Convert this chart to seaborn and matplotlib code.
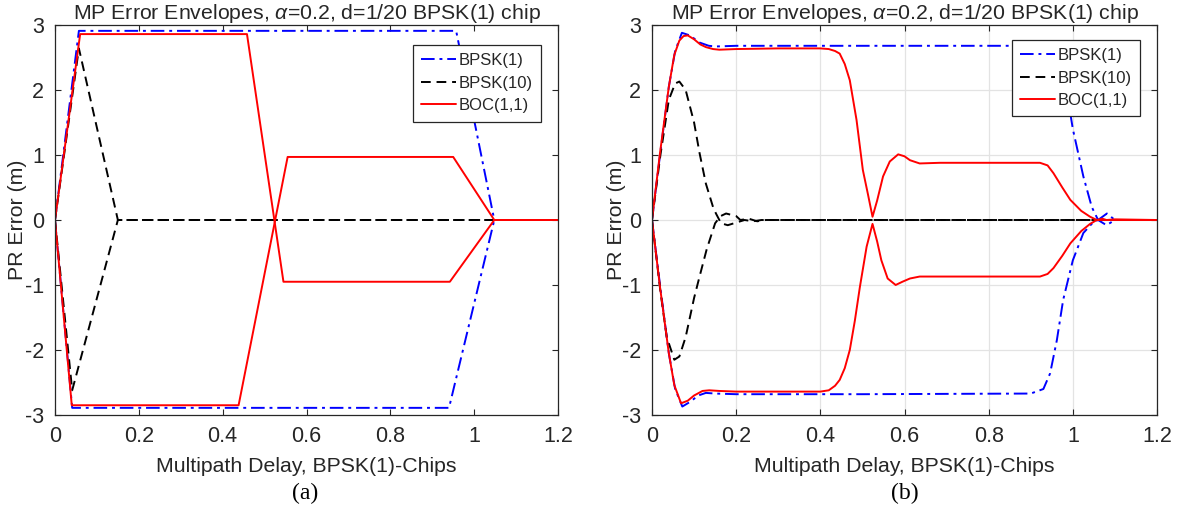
import numpy as np
import pandas as pd
import matplotlib
matplotlib.use("Agg")
import matplotlib.pyplot as plt
import seaborn as sns

# ---------------- data ----------------
labels = ["BPSK(1)", "BPSK(10)", "BOC(1,1)"]
title = r"MP Error Envelopes, $\alpha$=0.2, d=1/20 BPSK(1) chip"

# (a) ideal envelopes
a_bpsk1_up_x = [0, 0.057, 0.957, 1.048, 1.2]
a_bpsk1_up_y = [0, 2.91, 2.91, 0, 0]
a_bpsk1_lo_x = [0, 0.041, 0.94, 1.048, 1.2]
a_bpsk1_lo_y = [0, -2.89, -2.89, 0, 0]
a_bpsk10_up_x = [0, 0.057, 0.15, 1.2]
a_bpsk10_up_y = [0, 2.64, 0, 0]
a_bpsk10_lo_x = [0, 0.041, 0.15, 1.2]
a_bpsk10_lo_y = [0, -2.62, 0, 0]
a_boc_up_x = [0, 0.06, 0.458, 0.545, 0.942, 1.048, 1.2]
a_boc_up_y = [0, 2.86, 2.86, -0.95, -0.95, 0, 0]
a_boc_lo_x = [0, 0.04, 0.438, 0.555, 0.95, 1.048, 1.2]
a_boc_lo_y = [0, -2.85, -2.85, 0.97, 0.97, 0, 0]

# (b) band-limited envelopes
b_bpsk1_up_x = [0, 0.02, 0.04, 0.055, 0.071, 0.09, 0.113, 0.135, 0.152, 0.2, 0.5, 0.92,
                0.945, 0.965, 0.98, 0.99, 1.0, 1.025, 1.045, 1.06, 1.08, 1.1, 1.2]
b_bpsk1_up_y = [0, 1.05, 2.05, 2.6, 2.88, 2.84, 2.73, 2.68, 2.67, 2.68, 2.68, 2.68,
                2.62, 2.45, 2.1, 1.8, 1.4, 0.67, 0.2, 0.0, -0.08, 0, 0]
b_bpsk1_lo_x = [0, 0.02, 0.04, 0.055, 0.072, 0.09, 0.11, 0.128, 0.15, 0.2, 0.5, 0.9,
                0.93, 0.946, 0.962, 0.977, 1.0, 1.025, 1.049, 1.06, 1.081, 1.1, 1.2]
b_bpsk1_lo_y = [0, -1.05, -2.05, -2.6, -2.87, -2.8, -2.7, -2.66, -2.67, -2.68, -2.68, -2.67,
                -2.6, -2.36, -1.85, -1.23, -0.62, -0.2, -0.03, 0, 0.1, 0, 0]
b_bpsk10_up_x = [0, 0.02, 0.04, 0.055, 0.065, 0.08, 0.1, 0.113, 0.128, 0.145, 0.152,
                 0.164, 0.18, 0.2, 0.22, 0.24, 0.26, 1.2]
b_bpsk10_up_y = [0, 1.0, 1.85, 2.1, 2.13, 2.0, 1.5, 1.03, 0.56, 0.2, 0.1,
                 -0.05, -0.08, -0.04, 0.0, -0.02, 0, 0]
b_bpsk10_lo_x = [0, 0.02, 0.035, 0.053, 0.065, 0.08, 0.1, 0.113, 0.13, 0.15, 0.163,
                 0.176, 0.2, 0.21, 0.23, 0.25, 0.27, 1.2]
b_bpsk10_lo_y = [0, -1.1, -1.8, -2.15, -2.1, -1.8, -1.2, -0.87, -0.45, -0.05, 0.06,
                 0.1, 0.06, 0.0, 0.02, -0.02, 0, 0]
b_boc_up_x = [0, 0.019, 0.04, 0.053, 0.065, 0.075, 0.085, 0.1, 0.115, 0.128, 0.145, 0.16,
              0.2, 0.3, 0.4, 0.42, 0.435, 0.446, 0.458, 0.47, 0.486, 0.501, 0.513, 0.524,
              0.535, 0.549, 0.565, 0.585, 0.6, 0.613, 0.636, 0.684, 0.8, 0.922, 0.94,
              0.954, 0.975, 0.994, 1.02, 1.041, 1.057, 1.07, 1.08, 1.1, 1.2]
b_boc_up_y = [0, 1.03, 2.05, 2.54, 2.76, 2.83, 2.84, 2.78, 2.7, 2.66, 2.63, 2.62,
              2.63, 2.64, 2.64, 2.63, 2.6, 2.56, 2.4, 2.15, 1.54, 0.77, 0.4, 0.05,
              0.3, 0.67, 0.9, 1.01, 0.98, 0.92, 0.87, 0.88, 0.88, 0.88, 0.84,
              0.72, 0.5, 0.31, 0.14, 0.05, 0.0, 0.02, 0.0, 0.01, 0]
b_boc_lo_x = [0, 0.019, 0.04, 0.053, 0.069, 0.085, 0.1, 0.12, 0.136, 0.16, 0.2, 0.3,
              0.4, 0.42, 0.435, 0.446, 0.458, 0.47, 0.482, 0.494, 0.51, 0.524, 0.535,
              0.545, 0.56, 0.579, 0.595, 0.613, 0.636, 0.7, 0.8, 0.922, 0.94, 0.954,
              0.975, 0.994, 1.02, 1.041, 1.057, 1.08, 1.2]
b_boc_lo_y = [0, -1.03, -2.05, -2.54, -2.82, -2.78, -2.7, -2.63, -2.62, -2.63, -2.64, -2.64,
              -2.64, -2.62, -2.55, -2.46, -2.28, -2.0, -1.55, -1.03, -0.41, -0.06, -0.33,
              -0.62, -0.9, -1.0, -0.95, -0.9, -0.87, -0.87, -0.87, -0.87, -0.83, -0.74,
              -0.55, -0.36, -0.17, -0.06, 0.0, 0.0, 0]

x_ticks = [0, 0.2, 0.4, 0.6, 0.8, 1.0, 1.2]
x_ticklabels = ["0", "0.2", "0.4", "0.6", "0.8", "1", "1.2"]
y_ticks = [-3, -2, -1, 0, 1, 2, 3]

# ---------------- style ----------------
sns.set_theme(style="white")
plt.rcParams["font.family"] = ["Liberation Sans", "DejaVu Sans"]
plt.rcParams["mathtext.fontset"] = "custom"
plt.rcParams["mathtext.it"] = "Liberation Sans:italic"
plt.rcParams["mathtext.rm"] = "Liberation Sans"
plt.rcParams["axes.unicode_minus"] = False
TXT = "#262626"

styles = {
    "BPSK(1)": dict(color="blue", ls=(0, (7, 2.5, 1.5, 2.5))),
    "BPSK(10)": dict(color="black", ls=(0, (5, 3))),
    "BOC(1,1)": dict(color="red", ls="-"),
}

fig = plt.figure(figsize=(11.79, 5.19), dpi=100)
ax_a = fig.add_axes([55 / 1179, 1 - 415 / 519, 503 / 1179, 390 / 519])
ax_b = fig.add_axes([652 / 1179, 1 - 415 / 519, 505 / 1179, 390 / 519])

panels = [
    (ax_a, [(a_bpsk1_up_x, a_bpsk1_up_y, a_bpsk1_lo_x, a_bpsk1_lo_y),
            (a_bpsk10_up_x, a_bpsk10_up_y, a_bpsk10_lo_x, a_bpsk10_lo_y),
            (a_boc_up_x, a_boc_up_y, a_boc_lo_x, a_boc_lo_y)], False, (0.966, 0.949), -0.055),
    (ax_b, [(b_bpsk1_up_x, b_bpsk1_up_y, b_bpsk1_lo_x, b_bpsk1_lo_y),
            (b_bpsk10_up_x, b_bpsk10_up_y, b_bpsk10_lo_x, b_bpsk10_lo_y),
            (b_boc_up_x, b_boc_up_y, b_boc_lo_x, b_boc_lo_y)], True, (0.966, 0.962), -0.052),
]

for ax, series, grid, leg_anchor, ylab_x in panels:
    for lab, (ux, uy, lx, ly) in zip(labels, series):
        st = styles[lab]
        df_u = pd.DataFrame({"x": ux, "y": uy})
        df_l = pd.DataFrame({"x": lx, "y": ly})
        sns.lineplot(data=df_u, x="x", y="y", ax=ax, color=st["color"], linestyle=st["ls"],
                     linewidth=1.4, sort=False, estimator=None, label=lab)
        sns.lineplot(data=df_l, x="x", y="y", ax=ax, color=st["color"], linestyle=st["ls"],
                     linewidth=1.4, sort=False, estimator=None, label="_nolegend_")
    ax.set_xlim(0, 1.2)
    ax.set_ylim(-3, 3)
    ax.set_xticks(x_ticks)
    ax.set_xticklabels(x_ticklabels)
    ax.set_yticks(y_ticks)
    ax.tick_params(direction="in", length=4, width=0.8, colors=TXT, labelsize=15.5,
                   top=True, right=True, bottom=True, left=True, pad=8)
    for sp in ax.spines.values():
        sp.set_color(TXT)
        sp.set_linewidth(0.9)
        sp.set_visible(True)
    if grid:
        ax.grid(True, color="#e3e3e3", linewidth=0.9)
        ax.set_axisbelow(True)
    else:
        ax.grid(False)
    ax.set_title(title, fontsize=15.3, color=TXT, pad=4)
    ax.set_xlabel("Multipath Delay, BPSK(1)-Chips", fontsize=15.3, color=TXT, labelpad=7)
    ax.set_ylabel("PR Error (m)", fontsize=15.3, color=TXT)
    ax.yaxis.set_label_coords(ylab_x, 0.5)
    leg = ax.legend(loc="upper right", bbox_to_anchor=leg_anchor, borderaxespad=0,
                    fontsize=12, frameon=True, fancybox=False, framealpha=1,
                    edgecolor=TXT, labelspacing=0.45, handlelength=2.1,
                    handletextpad=0.15, borderpad=0.5)
    leg.get_frame().set_linewidth(0.9)
    for t in leg.get_texts():
        t.set_color(TXT)

fig.text(305 / 1179, 1 - 493 / 519, "(a)", ha="center", va="center",
         fontsize=17, family="Liberation Serif", color="black")
fig.text(905 / 1179, 1 - 493 / 519, "(b)", ha="center", va="center",
         fontsize=17, family="Liberation Serif", color="black")

fig.savefig("out.png", dpi=100, facecolor="white")
